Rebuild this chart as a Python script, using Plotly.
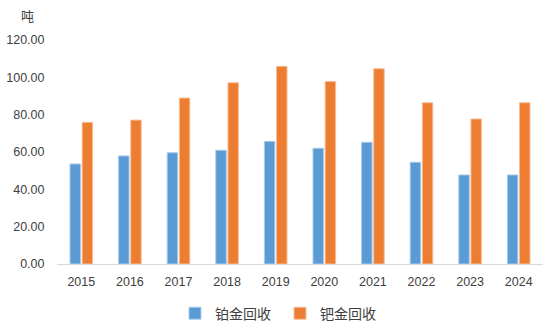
import plotly.graph_objects as go

years = ["2015", "2016", "2017", "2018", "2019", "2020", "2021", "2022", "2023", "2024"]
platinum = [53.6, 57.9, 59.6, 60.9, 65.7, 62.0, 65.2, 54.5, 47.7, 47.7]
palladium = [75.9, 77.1, 88.9, 97.1, 105.9, 97.8, 104.6, 86.4, 77.7, 86.4]
y_ticks = [0, 20, 40, 60, 80, 100, 120]
y_tick_labels = ["0.00", "20.00", "40.00", "60.00", "80.00", "100.00", "120.00"]

fig = go.Figure()
fig.add_trace(go.Bar(x=years, y=platinum, name="铂金回收",
                     marker=dict(color="#5B9BD5", line=dict(color="#A9CBEB", width=1))))
fig.add_trace(go.Bar(x=years, y=palladium, name="钯金回收",
                     marker=dict(color="#ED7D31", line=dict(color="#F6BE98", width=1))))

fig.update_layout(
    width=560, height=336,
    margin=dict(l=57, r=17, t=40, b=72, autoexpand=False),
    paper_bgcolor="white", plot_bgcolor="white",
    barmode="group", bargap=0.5, bargroupgap=0.14,
    font=dict(family="Liberation Sans, Noto Sans CJK SC", size=12, color="#404040"),
    showlegend=True,
    legend=dict(orientation="h", x=(280 - 57) / 486, xanchor="center", y=-0.15, yanchor="top",
                font=dict(family="Noto Sans CJK SC", size=14, color="#404040"),
                itemwidth=30, entrywidth=60, traceorder="normal"),
    xaxis=dict(showline=True, linecolor="#D9D9D9", linewidth=1,
               ticks="outside", ticklen=6, tickcolor="rgba(0,0,0,0)",
               showgrid=False, tickfont=dict(size=12.5, color="#404040")),
    yaxis=dict(range=[0, 120], tickvals=y_ticks, ticktext=y_tick_labels,
               showgrid=False, zeroline=False, showline=False,
               ticks="outside", ticklen=9, tickcolor="rgba(0,0,0,0)",
               tickfont=dict(size=12.5, color="#404040")),
    annotations=[dict(text="吨", x=(27 - 57) / (560 - 57 - 17), y=(264 - 16) / (264 - 40),
                      xref="paper", yref="paper", xanchor="center", yanchor="middle",
                      showarrow=False,
                      font=dict(family="Noto Sans CJK SC", size=13, color="#404040"))],
)

fig.write_html("out.html")
